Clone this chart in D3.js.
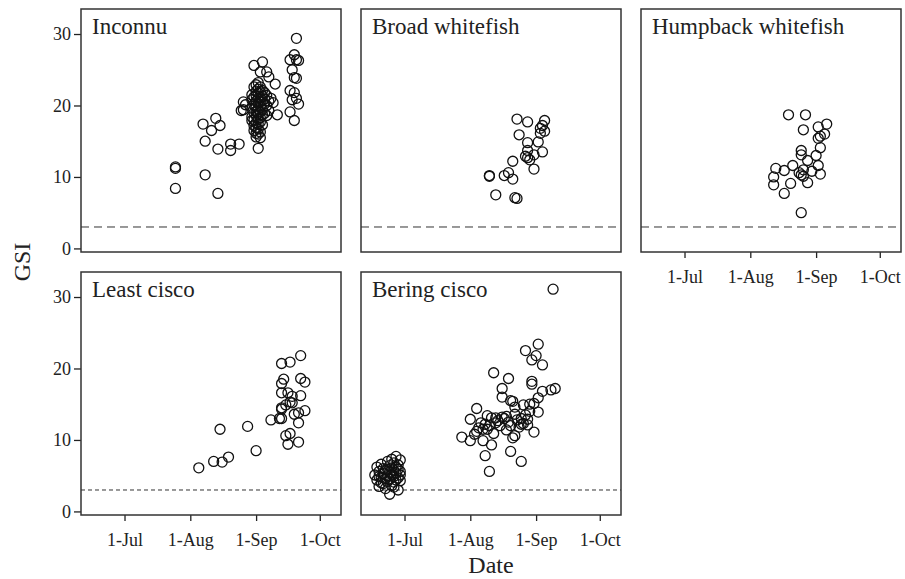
<!DOCTYPE html>
<html>
<head>
<meta charset="utf-8">
<script src="https://cdn.jsdelivr.net/npm/d3@7"></script>
<style>
  html, body { margin: 0; padding: 0; background: #fff; }
  svg { display: block; }
  text { font-family: "Liberation Serif", "Times New Roman", serif; fill: #222; }
</style>
</head>
<body>
<svg id="chart" width="905" height="579"></svg>
<script>
// GSI by sampling date, one array of [date, GSI] pairs per species
const inconnu = [
  ["07-25", 11.2], ["07-25", 11.4], ["07-25", 8.4],
  ["08-07", 17.4], ["08-08", 15.0], ["08-08", 10.3], ["08-11", 16.5], ["08-13", 18.2],
  ["08-15", 17.2], ["08-14", 13.9], ["08-14", 7.7], ["08-20", 14.6], ["08-20", 13.7],
  ["08-24", 14.6], ["08-26", 20.5], ["08-26", 19.4], ["08-27", 20.1], ["08-25", 19.3],
  ["08-30", 17.9], ["08-31", 25.6], ["09-04", 26.1], ["09-03", 24.7], ["09-06", 24.7],
  ["09-07", 24.0], ["09-10", 23.0], ["09-11", 18.7], ["09-02", 14.0], ["09-03", 15.5],
  ["08-30", 20.8], ["08-30", 19.6], ["08-30", 18.4], ["08-30", 21.5],
  ["08-31", 22.6], ["08-31", 21.2], ["08-31", 20.1], ["08-31", 19.0], ["08-31", 18.0], ["08-31", 17.2], ["08-31", 16.5],
  ["09-01", 22.9], ["09-01", 22.0], ["09-01", 21.4], ["09-01", 20.6], ["09-01", 19.8], ["09-01", 19.2],
  ["09-01", 18.6], ["09-01", 17.6], ["09-01", 16.9], ["09-01", 16.1], ["09-01", 15.6],
  ["09-02", 23.2], ["09-02", 22.3], ["09-02", 21.7], ["09-02", 21.0], ["09-02", 20.3], ["09-02", 19.5],
  ["09-02", 18.8], ["09-02", 18.1], ["09-02", 17.4], ["09-02", 16.7], ["09-02", 16.0],
  ["09-03", 22.6], ["09-03", 21.9], ["09-03", 21.1], ["09-03", 20.5], ["09-03", 19.9], ["09-03", 19.1],
  ["09-03", 18.3], ["09-03", 17.7], ["09-03", 16.3],
  ["09-04", 22.1], ["09-04", 21.3], ["09-04", 20.7], ["09-04", 19.4], ["09-04", 18.7], ["09-04", 17.3],
  ["09-05", 21.8], ["09-05", 20.9], ["09-05", 20.2], ["09-05", 18.9],
  ["09-06", 21.4], ["09-06", 20.0], ["09-06", 18.6],
  ["09-07", 20.6], ["09-07", 19.3], ["09-08", 21.0], ["09-09", 20.4],
  ["09-20", 29.4], ["09-19", 27.1], ["09-17", 26.4], ["09-20", 26.4], ["09-21", 26.3],
  ["09-18", 25.0], ["09-19", 23.9], ["09-20", 23.8], ["09-17", 22.1], ["09-19", 21.8],
  ["09-20", 21.0], ["09-18", 20.8], ["09-21", 20.2], ["09-17", 19.1], ["09-19", 17.9]
];

const broadWhitefish = [
  ["08-23", 18.1], ["08-28", 17.7], ["09-05", 17.9], ["09-04", 17.2], ["09-03", 16.8],
  ["09-05", 16.4], ["09-03", 16.1], ["08-24", 15.9], ["08-28", 14.8], ["09-02", 14.9],
  ["08-28", 13.7], ["09-04", 13.5], ["08-27", 12.9], ["08-28", 12.7], ["08-29", 12.4],
  ["08-31", 13.1], ["08-21", 12.2], ["08-31", 11.1], ["08-10", 10.1], ["08-10", 10.2],
  ["08-17", 10.2], ["08-19", 10.6], ["08-21", 9.7], ["08-13", 7.5], ["08-22", 7.1],
  ["08-23", 7.0]
];

const humpbackWhitefish = [
  ["08-19", 18.7], ["08-27", 18.7], ["08-26", 16.6], ["09-02", 17.0], ["09-06", 17.4],
  ["09-05", 16.0], ["09-03", 15.7], ["09-02", 15.4], ["09-03", 14.1], ["08-25", 13.7],
  ["08-25", 13.1], ["09-01", 13.0], ["08-28", 12.3], ["08-21", 11.6], ["09-02", 11.6],
  ["08-13", 11.2], ["08-17", 10.9], ["08-26", 11.0], ["08-24", 10.6], ["08-30", 10.8],
  ["09-03", 10.4], ["08-12", 10.0], ["08-12", 8.9], ["08-20", 9.1], ["08-28", 9.2],
  ["08-17", 7.7], ["08-25", 5.0], ["08-25", 10.3], ["08-26", 10.1]
];

const leastCisco = [
  ["08-05", 6.1], ["08-12", 7.0], ["08-16", 6.9], ["08-19", 7.6], ["08-15", 11.5],
  ["08-28", 11.9], ["09-01", 8.5], ["09-08", 12.8], ["09-13", 20.7], ["09-17", 20.9],
  ["09-22", 21.8], ["09-14", 18.5], ["09-13", 17.9], ["09-22", 18.6], ["09-24", 18.1],
  ["09-13", 16.6], ["09-16", 16.6], ["09-18", 16.1], ["09-22", 16.2], ["09-13", 14.3],
  ["09-13", 14.5], ["09-15", 14.9], ["09-17", 15.3], ["09-18", 15.2], ["09-12", 13.0],
  ["09-13", 13.0], ["09-19", 13.6], ["09-21", 13.8], ["09-24", 14.1], ["09-21", 12.4],
  ["09-15", 10.6], ["09-17", 10.9], ["09-16", 9.4], ["09-21", 9.7]
];

const beringCisco = [
  // late-June sample
  ["06-17", 5.1], ["06-18", 6.2], ["06-18", 4.4], ["06-19", 5.6], ["06-19", 3.5],
  ["06-20", 4.8], ["06-20", 6.6], ["06-20", 4.0], ["06-21", 5.3], ["06-21", 3.9],
  ["06-21", 6.0], ["06-22", 4.6], ["06-22", 5.8], ["06-22", 3.2], ["06-23", 5.0],
  ["06-23", 7.0], ["06-23", 4.2], ["06-24", 5.5], ["06-24", 2.4], ["06-24", 6.4],
  ["06-24", 4.5], ["06-25", 7.3], ["06-25", 5.2], ["06-25", 3.6], ["06-25", 6.1],
  ["06-26", 4.9], ["06-26", 5.7], ["06-26", 4.1], ["06-26", 6.8], ["06-27", 7.7],
  ["06-27", 5.4], ["06-27", 4.4], ["06-27", 6.2], ["06-28", 4.7], ["06-28", 5.9],
  ["06-28", 3.0], ["06-28", 6.5], ["06-29", 5.1], ["06-29", 4.3], ["06-29", 5.6],
  ["06-23", 5.9], ["06-21", 4.7], ["06-19", 4.9], ["06-26", 3.4], ["06-29", 7.2],
  // August-September samples
  ["09-09", 31.1], ["09-02", 23.4], ["08-27", 22.5], ["09-01", 21.8], ["08-30", 21.2],
  ["09-04", 20.5], ["08-12", 19.4], ["08-19", 18.6], ["08-30", 18.2], ["08-30", 17.8],
  ["08-16", 17.2], ["09-04", 16.8], ["09-08", 17.0], ["09-10", 17.2], ["08-16", 16.0],
  ["08-20", 15.5], ["08-21", 15.4], ["09-02", 15.9], ["08-29", 15.0], ["08-26", 14.9],
  ["08-22", 14.6], ["08-04", 14.4], ["09-02", 13.9], ["08-01", 12.9], ["08-09", 13.4],
  ["08-11", 13.1], ["08-16", 13.2], ["08-18", 13.3], ["08-22", 13.6], ["08-25", 13.0],
  ["08-28", 12.9], ["08-06", 12.4], ["08-08", 12.2], ["08-13", 13.1], ["08-14", 12.7],
  ["08-05", 11.7], ["08-07", 11.5], ["08-15", 12.0], ["08-09", 11.5], ["08-25", 12.2],
  ["07-28", 10.4], ["08-01", 9.9], ["08-03", 10.8], ["08-07", 9.9], ["08-12", 10.9],
  ["08-11", 9.3], ["08-21", 10.3], ["08-22", 10.6], ["08-31", 11.1], ["08-08", 7.8],
  ["08-20", 8.4], ["08-25", 7.0], ["08-10", 5.6],
  ["08-10", 12.0], ["08-17", 13.0], ["08-19", 12.5], ["08-23", 12.8], ["08-26", 12.3],
  ["08-27", 13.5], ["08-24", 11.8], ["08-18", 11.4], ["08-20", 12.0], ["08-28", 12.1],
  ["08-29", 14.0], ["08-31", 15.1], ["08-13", 12.4], ["08-04", 11.2]
];

const speciesNames = ["Inconnu", "Broad whitefish", "Humpback whitefish", "Least cisco", "Bering cisco"];
const speciesData = [inconnu, broadWhitefish, humpbackWhitefish, leastCisco, beringCisco];
const gsiTicks = [0, 10, 20, 30];
const dateTicks = ["07-01", "08-01", "09-01", "10-01"];
const dateDomain = ["06-10 12", "10-11 00"];
const gsiDomain = [-0.5, 33.5];
const maturityThreshold = 3;

// layout
const panelW = 260, panelH = 243, gapX = 20, gapY = 20;
const originX = 81, originY = 9;
const serif = '"Liberation Serif", "Times New Roman", serif';

const parseDate = d3.timeParse("%m-%d");
const parseDateHour = d3.timeParse("%m-%d %H");
const fmtDate = d3.timeFormat("%-d-%b");

const x = d3.scaleTime()
  .domain(dateDomain.map(parseDateHour))
  .range([0, panelW]);
const y = d3.scaleLinear()
  .domain(gsiDomain)
  .range([panelH, 0]);

const svg = d3.select("#chart");

// grid position of each panel; the sixth slot stays empty
const slots = [[0, 0], [1, 0], [2, 0], [0, 1], [1, 1]];

function styleAxis(a) {
  a.attr("font-family", serif).attr("font-size", 18);
  a.select(".domain").remove();
  a.selectAll("line").attr("stroke", "#222").attr("stroke-width", 1.3);
  a.selectAll("text").style("font-family", serif).style("font-size", "18px").attr("fill", "#222");
}

speciesNames.forEach((name, i) => {
  const [col, row] = slots[i];
  const g = svg.append("g")
    .attr("transform", `translate(${originX + col * (panelW + gapX)},${originY + row * (panelH + gapY)})`);

  // dashed reference line
  g.append("line")
    .attr("x1", 0).attr("x2", panelW)
    .attr("y1", y(maturityThreshold)).attr("y2", y(maturityThreshold))
    .attr("stroke", "#333")
    .attr("stroke-width", 1)
    .attr("stroke-dasharray", row === 0 ? "8,5" : "4,3");

  // points
  g.append("g").selectAll("circle")
    .data(speciesData[i])
    .join("circle")
    .attr("cx", d => x(parseDate(d[0])))
    .attr("cy", d => y(d[1]))
    .attr("r", 5)
    .attr("fill", "none")
    .attr("stroke", "#111")
    .attr("stroke-width", 1.3);

  // y axis on the first column
  if (col === 0) {
    g.append("g")
      .call(d3.axisLeft(y).tickValues(gsiTicks).tickSize(7).tickPadding(3))
      .call(styleAxis);
  }

  // x axis on the bottom panel of each column
  if (row === 1 || col === 2) {
    g.append("g")
      .attr("transform", `translate(0,${panelH})`)
      .call(d3.axisBottom(x).tickValues(dateTicks.map(parseDate)).tickFormat(fmtDate).tickSize(6).tickPadding(12))
      .call(styleAxis);
  }

  // frame
  g.append("rect")
    .attr("width", panelW).attr("height", panelH)
    .attr("fill", "none")
    .attr("stroke", "#333")
    .attr("stroke-width", 1.5);

  // species name
  g.append("text")
    .attr("x", 11).attr("y", 25)
    .style("font-size", "23px")
    .text(name);
});

// axis titles
svg.append("text")
  .attr("transform", `translate(30,${originY + panelH + gapY / 2}) rotate(-90)`)
  .attr("text-anchor", "middle")
  .style("font-size", "24px")
  .text("GSI");

svg.append("text")
  .attr("x", originX + panelW + gapX + panelW / 2)
  .attr("y", 573)
  .attr("text-anchor", "middle")
  .style("font-size", "24px")
  .text("Date");
</script>
</body>
</html>
